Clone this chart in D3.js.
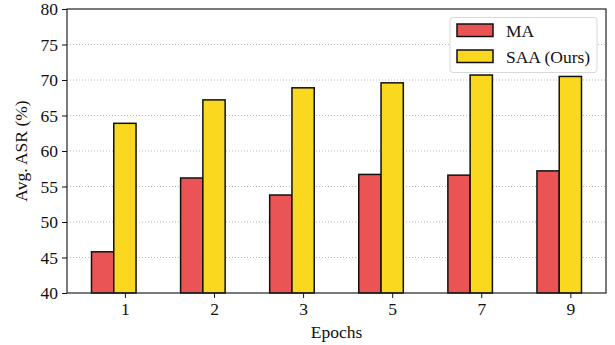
<!DOCTYPE html>
<html>
<head>
<meta charset="utf-8">
<script src="https://cdn.jsdelivr.net/npm/d3@7"></script>
<style>
  body { margin: 0; background: #fff; }
  text { font-family: "Liberation Serif", "Times New Roman", serif; fill: #111; }
</style>
</head>
<body>
<script>
var epochs = ["1", "2", "3", "5", "7", "9"];
var maValues = [45.8, 56.2, 53.8, 56.7, 56.6, 57.2];
var saaValues = [63.9, 67.2, 68.9, 69.6, 70.7, 70.5];
var yTicks = [40, 45, 50, 55, 60, 65, 70, 75, 80];
var seriesNames = ["MA", "SAA (Ours)"];
var seriesColors = ["#eb5454", "#f9d81f"];

var screen = {width: 615, height: 345}
var plot = {left: 67, right: 606, top: 9, bottom: 293}
var barW = 0.25;
var fontSize = "17.5px";

var svg = d3.select("body")
            .append("svg")
            .attr("width", screen.width)
            .attr("height", screen.height);

var x = d3.scaleLinear()
          .domain([-0.375 - 0.275, 5.125 + 0.275])
          .range([plot.left, plot.right]);

var y = d3.scaleLinear()
          .domain([40, 80])
          .range([plot.bottom, plot.top]);

// grid
svg.append("g")
   .selectAll("line")
   .data(yTicks.slice(1, -1))
   .enter()
   .append("line")
   .attr("x1", plot.left)
   .attr("x2", plot.right)
   .attr("y1", function(d) {return y(d);})
   .attr("y2", function(d) {return y(d);})
   .attr("stroke", "#b8b8b8")
   .attr("stroke-width", 1)
   .attr("stroke-dasharray", "1,2");

// bars
var series = [maValues, saaValues];
series.forEach(function(vals, s)
{
  svg.append("g")
     .selectAll("rect")
     .data(vals)
     .enter()
     .append("rect")
     .attr("x", function(d, i) {return x(i + (s - 1) * barW - barW / 2);})
     .attr("width", x(barW) - x(0))
     .attr("y", function(d) {return y(d);})
     .attr("height", function(d) {return y(40) - y(d);})
     .attr("fill", seriesColors[s])
     .attr("stroke", "#111")
     .attr("stroke-width", 1.5);
})

// axes
var xAxis = d3.axisBottom(x)
              .tickValues(d3.range(epochs.length))
              .tickFormat(function(d) {return epochs[d];})
              .tickSize(5)
              .tickPadding(5);

var yAxis = d3.axisLeft(y)
              .tickValues(yTicks)
              .tickSize(5)
              .tickPadding(4);

var gx = svg.append("g")
            .attr("transform", "translate(0," + plot.bottom + ")")
            .call(xAxis);

var gy = svg.append("g")
            .attr("transform", "translate(" + plot.left + ",0)")
            .call(yAxis);

[gx, gy].forEach(function(g)
{
  g.select(".domain").remove();
  g.selectAll("line").attr("stroke", "#111").attr("stroke-width", 1);
  g.selectAll("text")
   .attr("font-size", fontSize)
   .attr("font-family", "Liberation Serif")
   .attr("fill", "#111");
})

// frame
svg.append("rect")
   .attr("x", plot.left)
   .attr("y", plot.top)
   .attr("width", plot.right - plot.left)
   .attr("height", plot.bottom - plot.top)
   .attr("fill", "none")
   .attr("stroke", "#222")
   .attr("stroke-width", 1.2);

// labels
svg.append("text")
   .attr("x", (plot.left + plot.right) / 2)
   .attr("y", 338)
   .attr("text-anchor", "middle")
   .attr("font-size", fontSize)
   .text("Epochs");

svg.append("text")
   .attr("transform", "translate(27," + (plot.top + plot.bottom) / 2 + ") rotate(-90)")
   .attr("text-anchor", "middle")
   .attr("font-size", fontSize)
   .text("Avg. ASR (%)");

// legend
var legend = svg.append("g");

legend.append("rect")
      .attr("x", 450)
      .attr("y", 17.5)
      .attr("width", 147)
      .attr("height", 55)
      .attr("rx", 3)
      .attr("fill", "#fff")
      .attr("fill-opacity", 0.85)
      .attr("stroke", "#d8d8d8")
      .attr("stroke-width", 1);

seriesNames.forEach(function(name, i)
{
  legend.append("rect")
        .attr("x", 457)
        .attr("y", 24 + i * 26)
        .attr("width", 36)
        .attr("height", 12.5)
        .attr("fill", seriesColors[i])
        .attr("stroke", "#111")
        .attr("stroke-width", 1.5);

  legend.append("text")
        .attr("x", 506)
        .attr("y", 36.5 + i * 26)
        .attr("font-size", fontSize)
        .text(name);
})
</script>
</body>
</html>
